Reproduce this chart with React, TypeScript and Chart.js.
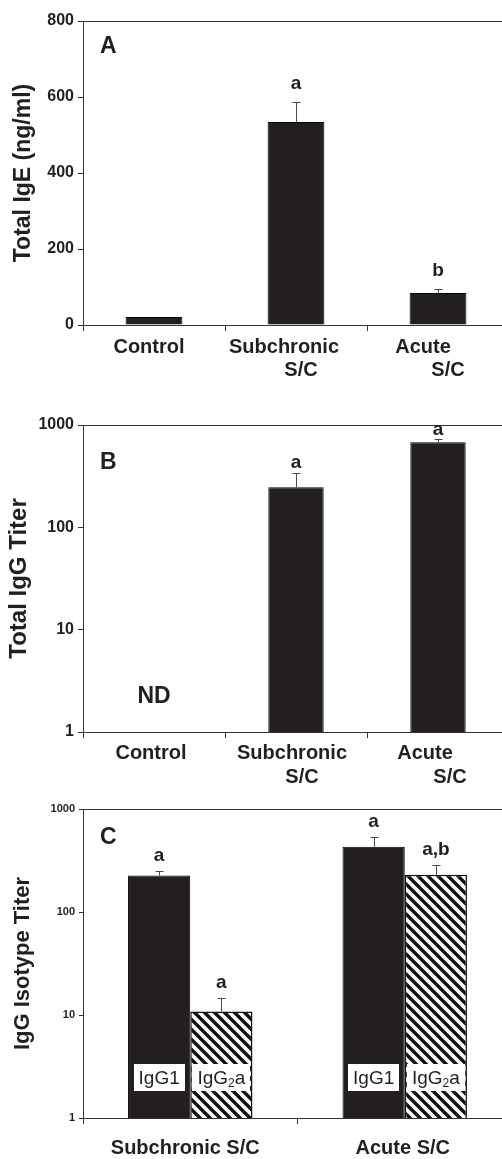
import React, { useEffect, useRef } from "react";
import { Chart, registerables } from "chart.js";

Chart.register(...registerables);

// ---------------- DATA ----------------
// Panel A – Total IgE (ng/ml)
const groupsA = ["Control", "Subchronic S/C", "Acute S/C"];
const xLinesA = [["Control"], ["Subchronic", "S/C"], ["Acute", "S/C"]];
const igeMeans = [21, 534, 84];
const igeErrors = [0, 53, 11];
const igeLetters = ["", "a", "b"];
const igeTicks = [0, 200, 400, 600, 800];

// Panel B – Total IgG titer (log)
const groupsB = ["Control", "Subchronic S/C", "Acute S/C"];
const xLinesB = [["Control"], ["Subchronic", "S/C"], ["Acute", "S/C"]];
const iggMeans: (number | null)[] = [null, 246, 678];
const iggErrors = [0, 92, 47];
const iggLetters = ["", "a", "a"];
const iggNotDetected = ["ND", "", ""];
const logTicks = [1, 10, 100, 1000];

// Panel C – IgG isotype titer (log)
const groupsC = ["Subchronic S/C", "Acute S/C"];
const xLinesC = [["Subchronic S/C"], ["Acute S/C"]];
const igg1Means = [226, 430];
const igg1Errors = [25, 110];
const igg1Letters = ["a", "a"];
const igg2aMeans = [10.8, 230];
const igg2aErrors = [3.8, 58];
const igg2aLetters = ["a", "a,b"];
// parts: [main, subscript, tail]
const isotypeLabels = [["IgG1", "", ""], ["IgG", "2", "a"]];

// ---------------- STYLE ----------------
const FONT = '"Liberation Sans", Arial, Helvetica, sans-serif';
const INK = "#231f20";
const AXIS = "#333333";
const BAR = "#231f20";

type DecorCfg = {
  errors: number[][];
  letters: string[][];
  letterGap: number;
  letterFont: string;
  panel: string;
  panelDx: number;
  panelDy: number;
  xLines: string[][];
  xShift: number[][];
  xLineY: number[];
  xFont: string;
  nd?: { labels: string[]; value: number };
  inner?: { labels: string[][]; value: number };
};

function makeDecor(cfg: DecorCfg) {
  return {
    id: "decor",
    afterDraw(chart: any) {
      const ctx: CanvasRenderingContext2D = chart.ctx;
      const ca = chart.chartArea;
      const xs = chart.scales.x;
      const ys = chart.scales.y;
      ctx.save();
      // top frame line
      ctx.strokeStyle = AXIS;
      ctx.lineWidth = 1;
      const ty = Math.round(ca.top) + 0.5;
      ctx.beginPath();
      ctx.moveTo(ca.left, ty);
      ctx.lineTo(chart.width, ty);
      ctx.stroke();

      // error bars and letters
      chart.data.datasets.forEach((ds: any, di: number) => {
        const meta = chart.getDatasetMeta(di);
        meta.data.forEach((el: any, i: number) => {
          const v = ds.data[i];
          if (v == null) return;
          const e = cfg.errors[di][i];
          const x = el.x;
          let topY = el.y;
          if (e > 0) {
            topY = ys.getPixelForValue(v + e);
            const sx = Math.round(x) + 0.5;
            const cy = Math.round(topY) + 0.5;
            ctx.strokeStyle = "#4a4a4a";
            ctx.lineWidth = 1;
            ctx.beginPath();
            ctx.moveTo(sx, el.y);
            ctx.lineTo(sx, cy);
            ctx.moveTo(sx - 4, cy);
            ctx.lineTo(sx + 4, cy);
            ctx.stroke();
          }
          const L = cfg.letters[di][i];
          if (L) {
            ctx.fillStyle = INK;
            ctx.font = cfg.letterFont;
            ctx.textAlign = "center";
            ctx.textBaseline = "middle";
            ctx.fillText(L, x, topY - cfg.letterGap);
          }
        });
      });

      // inner isotype labels
      if (cfg.inner) {
        const inner = cfg.inner;
        const cyBox = ys.getPixelForValue(inner.value);
        chart.data.datasets.forEach((ds: any, di: number) => {
          const meta = chart.getDatasetMeta(di);
          const parts = inner.labels[di];
          meta.data.forEach((el: any) => {
            ctx.font = `19px ${FONT}`;
            const w1 = ctx.measureText(parts[0]).width;
            ctx.font = `12px ${FONT}`;
            const w2 = parts[1] ? ctx.measureText(parts[1]).width : 0;
            ctx.font = `19px ${FONT}`;
            const w3 = parts[2] ? ctx.measureText(parts[2]).width : 0;
            const total = w1 + w2 + w3;
            const bw = Math.min(total + 10, el.width - 2);
            ctx.fillStyle = "#ffffff";
            ctx.fillRect(Math.round(el.x - bw / 2), Math.round(cyBox - 13.5), Math.round(bw), 27);
            ctx.fillStyle = INK;
            ctx.textAlign = "left";
            ctx.textBaseline = "alphabetic";
            let sx = el.x - total / 2;
            const base = cyBox + 7;
            ctx.font = `19px ${FONT}`;
            ctx.fillText(parts[0], sx, base);
            sx += w1;
            if (parts[1]) {
              ctx.font = `12px ${FONT}`;
              ctx.fillText(parts[1], sx, base + 3);
              sx += w2;
            }
            if (parts[2]) {
              ctx.font = `19px ${FONT}`;
              ctx.fillText(parts[2], sx, base);
            }
          });
        });
      }

      // ND annotation
      if (cfg.nd) {
        const yND = ys.getPixelForValue(cfg.nd.value);
        ctx.font = `bold 23px ${FONT}`;
        ctx.fillStyle = INK;
        ctx.textAlign = "center";
        ctx.textBaseline = "middle";
        cfg.nd.labels.forEach((t, i) => {
          if (t) ctx.fillText(t, xs.getPixelForValue(i), yND);
        });
      }

      // panel letter
      ctx.font = `bold 23px ${FONT}`;
      ctx.fillStyle = INK;
      ctx.textAlign = "left";
      ctx.textBaseline = "middle";
      ctx.fillText(cfg.panel, ca.left + cfg.panelDx, ca.top + cfg.panelDy);

      // x category labels
      ctx.font = cfg.xFont;
      ctx.textAlign = "center";
      ctx.textBaseline = "middle";
      cfg.xLines.forEach((lines, i) => {
        const cx = xs.getPixelForValue(i);
        lines.forEach((t, li) => {
          ctx.fillText(t, cx + cfg.xShift[i][li], ca.bottom + cfg.xLineY[li]);
        });
      });
      ctx.restore();
    },
  };
}

function baseScales(opts: {
  xHeight: number;
  yWidth: number;
  yType: "linear" | "logarithmic";
  yMin: number;
  yMax: number;
  yTicks: number[];
  tickFont: number;
  tickLen: number;
  title: string;
  titleSize: number;
  titlePad: number;
}) {
  return {
    x: {
      type: "category",
      offset: true,
      grid: {
        display: true,
        offset: true,
        drawOnChartArea: false,
        drawTicks: true,
        tickLength: 6,
        color: AXIS,
        lineWidth: 1,
      },
      border: { display: true, color: AXIS, width: 1 },
      ticks: { display: false },
      afterFit: (s: any) => {
        s.height = opts.xHeight;
      },
    },
    y: {
      type: opts.yType,
      min: opts.yMin,
      max: opts.yMax,
      afterBuildTicks: (s: any) => {
        s.ticks = opts.yTicks.map((v) => ({ value: v }));
      },
      ticks: {
        color: INK,
        padding: 4,
        font: { family: FONT, size: opts.tickFont, weight: "bold" },
        callback: (v: any) => String(v),
      },
      grid: {
        display: true,
        drawOnChartArea: false,
        drawTicks: true,
        tickLength: opts.tickLen,
        color: AXIS,
      },
      border: { display: true, color: AXIS, width: 1 },
      title: {
        display: true,
        text: opts.title,
        color: INK,
        font: { family: FONT, size: opts.titleSize, weight: "bold" },
        padding: { top: opts.titlePad, bottom: 0 },
      },
      afterFit: (s: any) => {
        s.width = opts.yWidth;
      },
    },
  };
}

function makeHatch(): CanvasPattern | string {
  const s = 10;
  const c = document.createElement("canvas");
  c.width = s;
  c.height = s;
  const g = c.getContext("2d");
  if (!g) return "#888";
  g.fillStyle = "#ffffff";
  g.fillRect(0, 0, s, s);
  g.strokeStyle = "#111111";
  g.lineWidth = 3.4;
  g.beginPath();
  g.moveTo(-3, -3);
  g.lineTo(s + 3, s + 3);
  g.moveTo(s - 3, -3);
  g.lineTo(s + 3, 3);
  g.moveTo(-3, s - 3);
  g.lineTo(3, s + 3);
  g.stroke();
  return g.createPattern(c, "repeat") || "#888";
}

function buildA(): any {
  return {
    type: "bar",
    data: {
      labels: groupsA,
      datasets: [
        {
          data: igeMeans,
          backgroundColor: BAR,
          borderColor: "#000",
          borderWidth: 1,
          barPercentage: 0.4,
          categoryPercentage: 1,
        },
      ],
    },
    options: {
      animation: false,
      responsive: false,
      layout: { padding: { top: 21, right: 11, left: 0, bottom: 0 } },
      plugins: { legend: { display: false }, tooltip: { enabled: false } },
      scales: baseScales({
        xHeight: 63,
        yWidth: 83,
        yType: "linear",
        yMin: 0,
        yMax: 800,
        yTicks: igeTicks,
        tickFont: 16,
        tickLen: 5,
        title: "Total IgE (ng/ml)",
        titleSize: 23,
        titlePad: 10,
      }),
    },
    plugins: [
      makeDecor({
        errors: [igeErrors],
        letters: [igeLetters],
        letterGap: 18,
        letterFont: `bold 19px ${FONT}`,
        panel: "A",
        panelDx: 17,
        panelDy: 26,
        xLines: xLinesA,
        xShift: [[-5], [-12, 5], [-15, 10]],
        xLineY: [22, 45],
        xFont: `bold 20px ${FONT}`,
      }),
    ],
  };
}

function buildB(): any {
  return {
    type: "bar",
    data: {
      labels: groupsB,
      datasets: [
        {
          data: iggMeans,
          backgroundColor: BAR,
          borderColor: "#000",
          borderWidth: 1,
          barPercentage: 0.39,
          categoryPercentage: 1,
        },
      ],
    },
    options: {
      animation: false,
      responsive: false,
      layout: { padding: { top: 37, right: 11, left: 0, bottom: 0 } },
      plugins: { legend: { display: false }, tooltip: { enabled: false } },
      scales: baseScales({
        xHeight: 56,
        yWidth: 83,
        yType: "logarithmic",
        yMin: 1,
        yMax: 1000,
        yTicks: logTicks,
        tickFont: 16,
        tickLen: 5,
        title: "Total IgG Titer",
        titleSize: 24,
        titlePad: 5,
      }),
    },
    plugins: [
      makeDecor({
        errors: [iggErrors],
        letters: [iggLetters],
        letterGap: 10,
        letterFont: `bold 19px ${FONT}`,
        panel: "B",
        panelDx: 17,
        panelDy: 38,
        xLines: xLinesB,
        xShift: [[-3], [-4, 6], [-13, 12]],
        xLineY: [21, 45],
        xFont: `bold 20px ${FONT}`,
        nd: { labels: iggNotDetected, value: 2.2 },
      }),
    ],
  };
}

function buildC(): any {
  const hatch = makeHatch();
  return {
    type: "bar",
    data: {
      labels: groupsC,
      datasets: [
        {
          data: igg1Means,
          backgroundColor: BAR,
          borderColor: "#000",
          borderWidth: 1,
          barPercentage: 1,
          categoryPercentage: 0.58,
        },
        {
          data: igg2aMeans,
          backgroundColor: hatch,
          borderColor: "#111",
          borderWidth: 1.5,
          barPercentage: 1,
          categoryPercentage: 0.58,
        },
      ],
    },
    options: {
      animation: false,
      responsive: false,
      layout: { padding: { top: 21, right: 8, left: 0, bottom: 0 } },
      plugins: { legend: { display: false }, tooltip: { enabled: false } },
      scales: baseScales({
        xHeight: 41,
        yWidth: 83,
        yType: "logarithmic",
        yMin: 1,
        yMax: 1000,
        yTicks: logTicks,
        tickFont: 11,
        tickLen: 4,
        title: "IgG Isotype Titer",
        titleSize: 22,
        titlePad: 10,
      }),
    },
    plugins: [
      makeDecor({
        errors: [igg1Errors, igg2aErrors],
        letters: [igg1Letters, igg2aLetters],
        letterGap: 15,
        letterFont: `bold 19px ${FONT}`,
        panel: "C",
        panelDx: 17,
        panelDy: 29,
        xLines: xLinesC,
        xShift: [[-5], [-2]],
        xLineY: [30],
        xFont: `bold 20px ${FONT}`,
        inner: { labels: isotypeLabels, value: 2.5 },
      }),
    ],
  };
}

function Panel({ top, height, build }: { top: number; height: number; build: () => any }) {
  const ref = useRef<HTMLCanvasElement>(null);
  useEffect(() => {
    if (!ref.current) return;
    const chart = new Chart(ref.current, build());
    return () => chart.destroy();
  }, []);
  return (
    <div style={{ position: "absolute", left: 0, top, width: 502, height, overflow: "hidden" }}>
      <canvas ref={ref} width={520} height={height} style={{ display: "block" }} />
    </div>
  );
}

export default function App() {
  return (
    <div
      style={{
        position: "absolute",
        left: 0,
        top: 0,
        width: 502,
        height: 1159,
        overflow: "hidden",
        background: "#ffffff",
      }}
    >
      <Panel top={0} height={388} build={buildA} />
      <Panel top={388} height={400} build={buildB} />
      <Panel top={788} height={371} build={buildC} />
    </div>
  );
}
